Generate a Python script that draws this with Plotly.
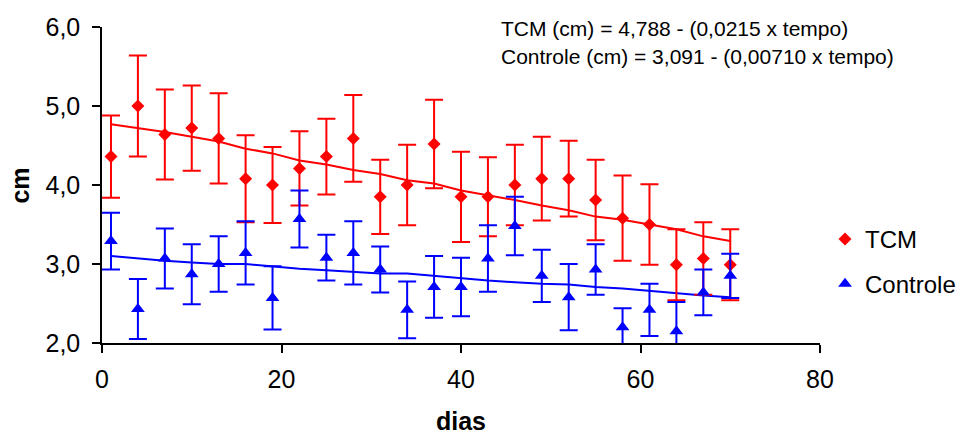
import plotly.graph_objects as go

days = [1, 4, 7, 10, 13, 16, 19, 22, 25, 28, 31, 34, 37, 40, 43, 46, 49, 52, 55, 58, 61, 64, 67, 70]

tcm_mean = [4.36, 5.00, 4.64, 4.72, 4.59, 4.08, 4.00, 4.21, 4.36, 4.59, 3.85, 4.00,
            4.52, 3.85, 3.85, 4.00, 4.08, 4.08, 3.81, 3.58, 3.50, 2.99, 3.07, 2.99]
tcm_err = [0.52, 0.64, 0.57, 0.54, 0.57, 0.55, 0.48, 0.47, 0.48, 0.55, 0.47, 0.51,
           0.56, 0.57, 0.50, 0.51, 0.53, 0.48, 0.51, 0.54, 0.51, 0.45, 0.46, 0.45]
tcm_trend = [4.77, 4.72, 4.67, 4.61, 4.55, 4.46, 4.40, 4.31, 4.26, 4.19, 4.14, 4.06,
             4.02, 3.93, 3.87, 3.81, 3.74, 3.68, 3.60, 3.56, 3.50, 3.44, 3.35, 3.29]

ctl_mean = [3.29, 2.43, 3.07, 2.87, 3.00, 3.14, 2.57, 3.57, 3.08, 3.14, 2.93, 2.42,
            2.71, 2.71, 3.07, 3.48, 2.85, 2.58, 2.93, 2.20, 2.42, 2.15, 2.64, 2.85]
ctl_err = [0.36, 0.38, 0.38, 0.38, 0.35, 0.40, 0.40, 0.36, 0.29, 0.40, 0.29, 0.36,
           0.39, 0.37, 0.42, 0.37, 0.33, 0.42, 0.32, 0.24, 0.33, 0.37, 0.29, 0.28]
ctl_trend = [3.10, 3.07, 3.04, 3.02, 3.00, 3.00, 2.97, 2.94, 2.92, 2.90, 2.88, 2.88,
             2.85, 2.82, 2.79, 2.77, 2.75, 2.74, 2.71, 2.69, 2.66, 2.63, 2.60, 2.58]

x_ticks = [0, 20, 40, 60, 80]
y_ticks = [2.0, 3.0, 4.0, 5.0, 6.0]

eq_lines = ["TCM (cm) = 4,788 - (0,0215 x tempo)",
            "Controle (cm) = 3,091 - (0,00710 x tempo)"]

RED = "#FF0000"
BLUE = "#0000FF"
FONT = "Liberation Sans, Arial, sans-serif"

fig = go.Figure()

fig.add_trace(go.Scatter(
    x=days, y=tcm_trend, mode="lines", line=dict(color=RED, width=2),
    showlegend=False, hoverinfo="skip"))
fig.add_trace(go.Scatter(
    x=days, y=ctl_trend, mode="lines", line=dict(color=BLUE, width=2),
    showlegend=False, hoverinfo="skip"))

fig.add_trace(go.Scatter(
    x=days, y=tcm_mean, mode="markers", name="TCM",
    marker=dict(symbol="diamond", size=10, color=RED),
    error_y=dict(type="data", array=tcm_err, visible=True, color=RED,
                 thickness=2, width=9),
    legend="legend"))
fig.add_trace(go.Scatter(
    x=days, y=ctl_mean, mode="markers", name="Controle",
    marker=dict(symbol="triangle-up", size=12, color=BLUE),
    error_y=dict(type="data", array=ctl_err, visible=True, color=BLUE,
                 thickness=2, width=9),
    legend="legend2"))

fig.add_annotation(x=0.553, y=0.995, xref="paper", yref="paper",
                   xanchor="left", yanchor="middle", showarrow=False,
                   text=eq_lines[0], font=dict(size=21, color="black", family=FONT))
fig.add_annotation(x=0.553, y=0.908, xref="paper", yref="paper",
                   xanchor="left", yanchor="middle", showarrow=False,
                   text=eq_lines[1], font=dict(size=21, color="black", family=FONT))

# axis titles
fig.add_annotation(x=-0.1138, y=0.499, xref="paper", yref="paper",
                   xanchor="center", yanchor="middle", showarrow=False, textangle=-90,
                   text="<b>cm</b>", font=dict(size=25, color="black", family=FONT))
fig.add_annotation(x=0.5, y=-0.246, xref="paper", yref="paper",
                   xanchor="center", yanchor="middle", showarrow=False,
                   text="<b>dias</b>", font=dict(size=25, color="black", family=FONT))

fig.update_layout(
    width=960, height=438,
    margin=dict(l=102, r=140, t=27, b=95, autoexpand=False),
    paper_bgcolor="white", plot_bgcolor="white",
    separators=",.",
    font=dict(family=FONT, size=25, color="black"),
    legend=dict(x=1.007, y=0.328, xanchor="left", yanchor="middle",
                font=dict(size=24, family=FONT), bgcolor="rgba(0,0,0,0)",
                itemwidth=30),
    legend2=dict(x=1.007, y=0.186, xanchor="left", yanchor="middle",
                 font=dict(size=24, family=FONT), bgcolor="rgba(0,0,0,0)",
                 itemwidth=30),
    xaxis=dict(range=[0, 80], tickvals=x_ticks, ticktext=[str(v) for v in x_ticks],
               showgrid=False, zeroline=False, showline=True, linecolor="black",
               linewidth=1.5, ticks="outside", ticklen=8, tickcolor="black",
               tickwidth=1.5, ticklabelstandoff=5, automargin=False,
               tickfont=dict(size=25, family=FONT)),
    yaxis=dict(range=[2, 6], tickvals=y_ticks, tickformat=".1f",
               showgrid=False, zeroline=False, showline=True, linecolor="black",
               linewidth=1.5, ticks="outside", ticklen=8, tickcolor="black",
               tickwidth=1.5, ticklabelstandoff=7, automargin=False,
               tickfont=dict(size=25, family=FONT)),
)

fig.write_html("out.html", config={"displayModeBar": False},
               post_script="document.body.style.margin='0';document.body.style.overflow='hidden';")
